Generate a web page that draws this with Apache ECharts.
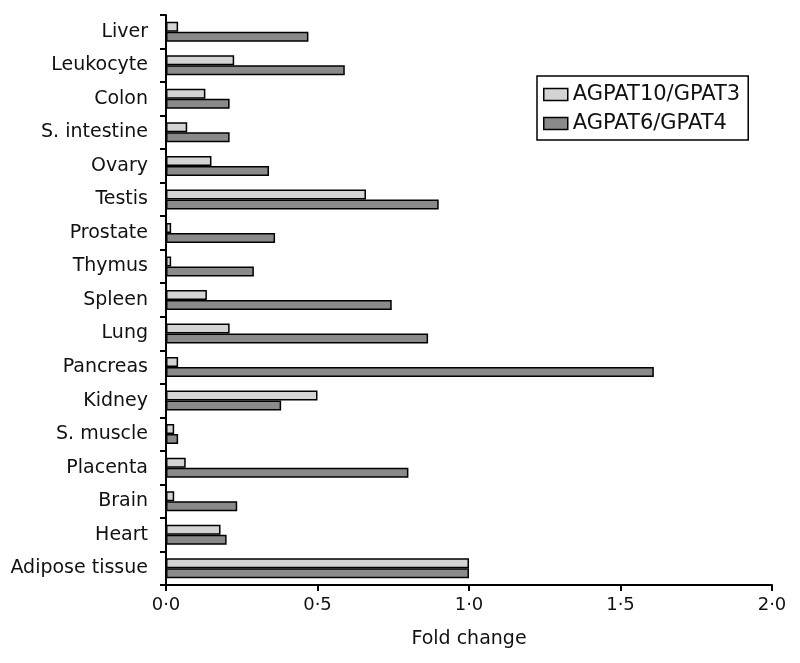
<!DOCTYPE html>
<html><head><meta charset="utf-8">
<script src="https://cdn.jsdelivr.net/npm/echarts@6/dist/echarts.min.js"></script>
<style>html,body{margin:0;padding:0;background:#fff}#c{width:800px;height:663px}</style>
</head><body><div id="c"></div>
<script>
const categories = ['Liver','Leukocyte','Colon','S. intestine','Ovary','Testis','Prostate','Thymus','Spleen','Lung','Pancreas','Kidney','S. muscle','Placenta','Brain','Heart','Adipose tissue'];
const agpat10 = [0.04,0.225,0.13,0.07,0.15,0.66,0.017,0.017,0.135,0.21,0.04,0.50,0.027,0.065,0.027,0.18,1.0];
const agpat6 = [0.47,0.59,0.21,0.21,0.34,0.90,0.36,0.29,0.745,0.865,1.61,0.38,0.04,0.80,0.235,0.20,1.0];
const seriesNames = ['AGPAT10/GPAT3','AGPAT6/GPAT4'];
const xTicks = [0,0.5,1.0,1.5,2.0];

const chart = echarts.init(document.getElementById('c'));
const font = 'DejaVu Sans, Liberation Sans, Arial, sans-serif';
chart.setOption({
  animation:false,
  textStyle:{fontFamily:font},
  grid:{left:166,right:28,top:15,bottom:78},
  legend:{
    orient:'vertical', left:537, top:76, itemWidth:24, itemHeight:12, itemGap:6,
    icon:'rect',
    borderColor:'#000', borderWidth:1.5, padding:[7,8,5,6],
    textStyle:{fontSize:21,lineHeight:23,color:'#111',fontFamily:font},
    itemStyle:{borderColor:'#000',borderWidth:1.5},
    data:seriesNames
  },
  xAxis:{
    type:'value', min:0, max:2, interval:0.5,
    name:'Fold change', nameLocation:'middle', nameGap:45,
    nameTextStyle:{fontSize:19,color:'#111'},
    axisLine:{show:true,lineStyle:{color:'#000',width:2}},
    axisTick:{show:true,length:6,lineStyle:{color:'#000',width:2}},
    axisLabel:{fontSize:18,color:'#111',margin:11,formatter:v=>v.toFixed(1).replace('.','\u00b7')},
    splitLine:{show:false}
  },
  yAxis:{
    type:'category', data:categories, inverse:true,
    axisLine:{show:true,lineStyle:{color:'#000',width:2}},
    axisTick:{show:true,length:6,lineStyle:{color:'#000',width:2}},
    axisLabel:{fontSize:19,color:'#111',margin:18}
  },
  series:[
    {name:seriesNames[0],type:'bar',data:agpat10,barWidth:10,barGap:'0%',
     itemStyle:{color:'#d4d4d4',borderColor:'#000',borderWidth:1.5}},
    {name:seriesNames[1],type:'bar',data:agpat6,barWidth:10,barGap:'0%',
     itemStyle:{color:'#8a8a8a',borderColor:'#000',borderWidth:1.5}}
  ]
});
</script></body></html>
